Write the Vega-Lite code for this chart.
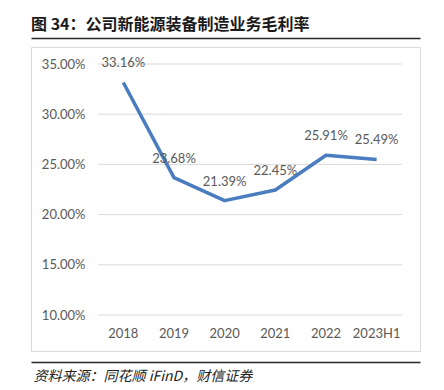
{
  "$schema": "https://vega.github.io/schema/vega-lite/v6.json",
  "width": 389,
  "height": 304,
  "autosize": "none",
  "padding": {"left": 31, "top": 47, "right": 24, "bottom": 39},
  "background": "white",
  "title": {
    "text": "图 34：公司新能源装备制造业务毛利率",
    "anchor": "start",
    "font": "Noto Sans CJK SC",
    "fontSize": 16,
    "fontWeight": "bold",
    "color": "#1a1a1a",
    "offset": 5
  },
  "datasets": {
    "margin": [
      {"year": "2018", "rate": 0.3316},
      {"year": "2019", "rate": 0.2368},
      {"year": "2020", "rate": 0.2139},
      {"year": "2021", "rate": 0.2245},
      {"year": "2022", "rate": 0.2591},
      {"year": "2023H1", "rate": 0.2549}
    ],
    "grid": [
      {"v": 0.10, "a": "2018", "b": "2023H1"},
      {"v": 0.15, "a": "2018", "b": "2023H1"},
      {"v": 0.20, "a": "2018", "b": "2023H1"},
      {"v": 0.25, "a": "2018", "b": "2023H1"},
      {"v": 0.30, "a": "2018", "b": "2023H1"},
      {"v": 0.35, "a": "2018", "b": "2023H1"}
    ]
  },
  "layer": [
    {
      "data": {"name": "grid"},
      "mark": {"type": "rule", "color": "#d9d9d9", "strokeWidth": 1},
      "encoding": {
        "x": {
          "field": "a", "type": "nominal", "bandPosition": 0,
          "scale": {"domain": ["2018", "2019", "2020", "2021", "2022", "2023H1"], "paddingInner": 0, "paddingOuter": 0.8388, "align": 0.788},
          "axis": {
            "orient": "bottom", "offset": 11, "domain": true, "domainColor": "#262626", "domainWidth": 1.5,
            "labels": false, "ticks": false, "grid": false,
            "title": "资料来源：同花顺 iFinD，财信证券",
            "titleAnchor": "start", "titleAlign": "left", "titleX": 2,
            "titleFont": "Noto Sans CJK SC", "titleFontStyle": "italic", "titleFontWeight": "normal",
            "titleFontSize": 14, "titleColor": "#222222", "titlePadding": 7
          }
        },
        "x2": {"field": "b", "bandPosition": 1},
        "y": {
          "field": "v", "type": "quantitative",
          "scale": {"domain": [0.10, 0.35], "range": [268, 17], "nice": false, "zero": false},
          "axis": {
            "orient": "left", "offset": -56, "domain": false, "ticks": false, "grid": false,
            "values": [0.10, 0.15, 0.20, 0.25, 0.30, 0.35],
            "format": ".2%",
            "labelPadding": 2, "labelFont": "Lato", "labelFontSize": 13, "labelColor": "#595959",
            "title": null
          }
        }
      }
    },
    {
      "data": {"name": "margin"},
      "mark": {"type": "line", "color": "#4a7dbf", "strokeWidth": 3.5, "strokeCap": "butt", "strokeJoin": "round"},
      "encoding": {
        "x": {
          "field": "year", "type": "nominal",
          "axis": {
            "orient": "bottom", "offset": -36, "domain": false, "ticks": false, "grid": false,
            "labelAngle": 0, "labelBaseline": "middle", "labelPadding": 18,
            "labelFont": "Lato", "labelFontSize": 13, "labelColor": "#595959", "title": null
          }
        },
        "y": {"field": "rate", "type": "quantitative", "axis": null}
      }
    },
    {
      "data": {"name": "margin"},
      "mark": {"type": "text", "dy": -19, "baseline": "middle", "align": "center", "font": "Lato", "fontSize": 13, "color": "#595959"},
      "encoding": {
        "x": {
          "field": "year", "type": "nominal",
          "axis": {
            "orient": "top", "offset": 9, "domain": true, "domainColor": "#262626", "domainWidth": 1.5,
            "labels": false, "ticks": false, "grid": false, "title": null
          }
        },
        "y": {"field": "rate", "type": "quantitative", "axis": null},
        "text": {"field": "rate", "type": "quantitative", "format": ".2%"}
      }
    }
  ],
  "resolve": {"axis": {"x": "independent", "y": "independent"}},
  "config": {
    "view": {"stroke": "#d9d9d9", "strokeWidth": 1}
  }
}
